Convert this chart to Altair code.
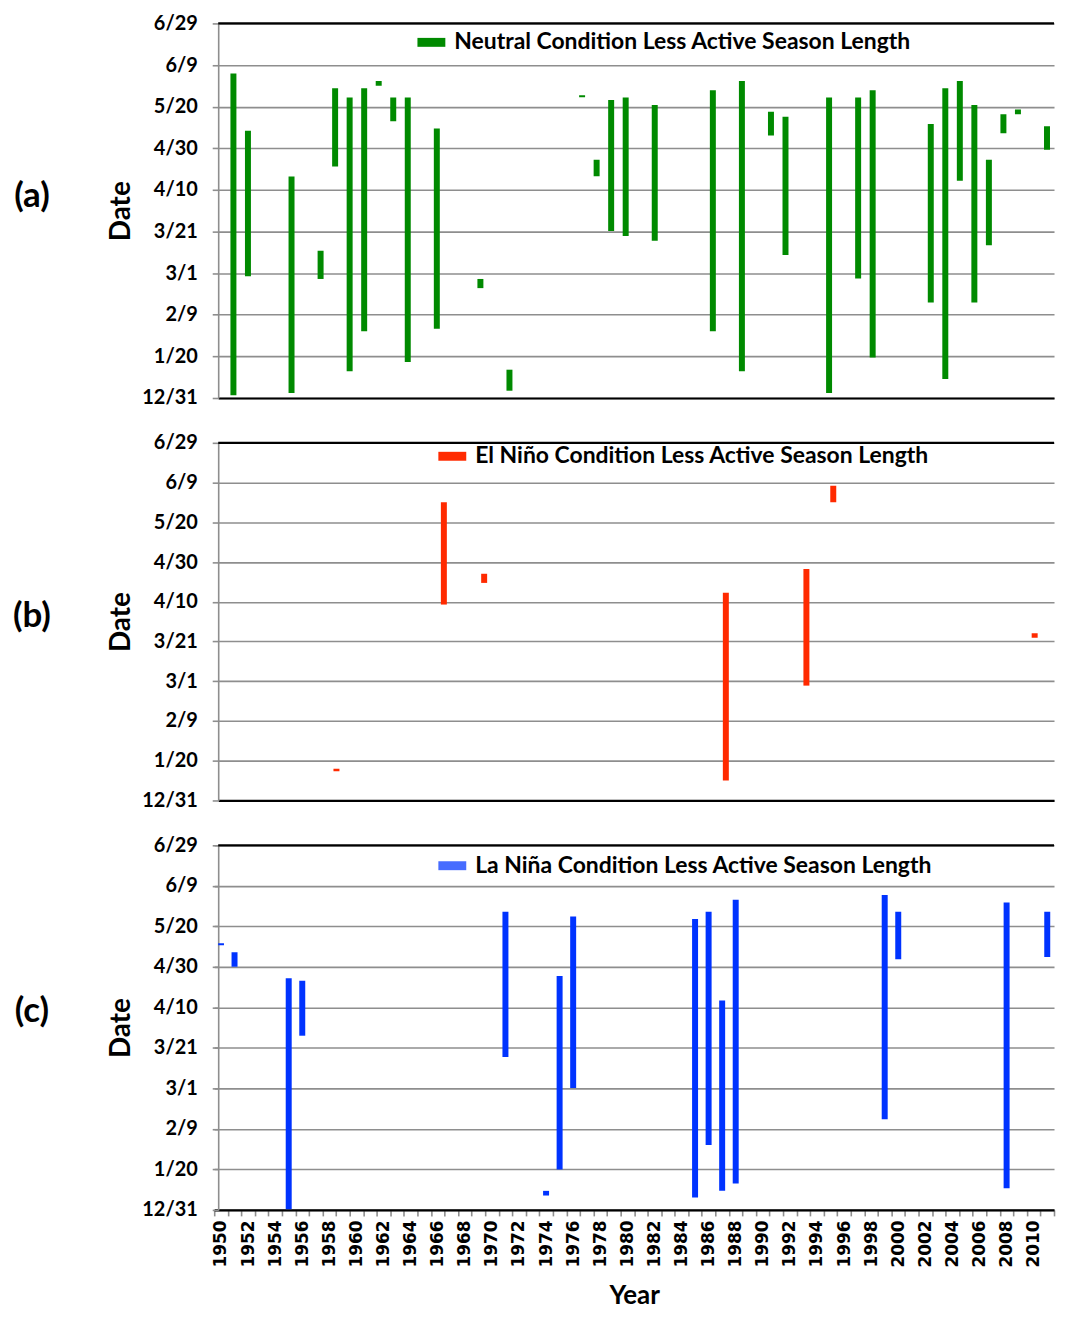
import altair as alt
import pandas as pd

# ---- axis labels -------------------------------------------------------
y_ticks = [0, 20, 40, 60, 80, 100, 120, 140, 160, 180]          # days after 12/31
y_labels = ["12/31", "1/20", "2/9", "3/1", "3/21", "4/10", "4/30", "5/20", "6/9", "6/29"]
axis_years = list(range(1950, 2012))

# ---- (a) Neutral ---------------------------------------------------------
neutral_years = [1950, 1951, 1954, 1956, 1957, 1958, 1959, 1960, 1961, 1962, 1964,
                 1967, 1969, 1974, 1975, 1976, 1977, 1979, 1983, 1985, 1987, 1988,
                 1991, 1993, 1994, 1998, 1999, 2000, 2001, 2002, 2003, 2004, 2006]
neutral_start = [1.3, 58.5, 2.4, 57.2, 111.3, 12.8, 32.1, 150.1, 133.0, 17.3, 33.3,
                 52.8, 3.5, 144.5, 106.6, 80.3, 77.9, 75.6, 32.1, 12.8, 126.1, 68.7,
                 2.4, 57.4, 19.5, 45.9, 9.1, 104.4, 45.9, 73.4, 127.2, 136.4, 119.3]
neutral_end = [155.9, 128.4, 106.5, 70.8, 148.8, 144.4, 148.8, 152.3, 144.4, 144.4, 129.5,
               57.2, 13.6, 145.5, 114.5, 143.2, 144.4, 140.8, 147.9, 152.3, 137.5, 135.1,
               144.4, 144.4, 147.9, 131.7, 148.8, 152.3, 140.8, 114.5, 136.4, 138.6, 130.6]

# ---- (b) El Nino ---------------------------------------------------------
nino_years = [1958, 1966, 1969, 1987, 1993, 1995, 2010]
nino_start = [14.7, 98.6, 109.5, 10.0, 57.8, 150.1, 81.9]
nino_end = [15.9, 150.1, 114.1, 104.5, 116.5, 158.4, 84.2]

# ---- (c) La Nina ---------------------------------------------------------
nina_years = [1950, 1951, 1955, 1956, 1971, 1974, 1975, 1976, 1985, 1986, 1987, 1988,
              1999, 2000, 2008, 2011]
nina_start = [130.6, 120.1, 0.3, 86.0, 75.5, 7.1, 20.0, 60.2, 6.1, 32.0, 9.5, 13.0,
              44.8, 123.7, 10.7, 124.9]
nina_end = [131.6, 127.2, 114.4, 113.1, 147.2, 9.4, 115.5, 144.9, 143.6, 147.2, 103.4, 153.1,
            155.4, 147.2, 151.8, 147.2]

LAB_A = "Neutral Condition Less Active Season Length"
LAB_B = "El Niño Condition Less Active Season Length"
LAB_C = "La Niña Condition Less Active Season Length"

FONT = "Lato"
GRID = "#8e8e8e"
W = 839
label_expr = "[" + ",".join("'%s'" % s for s in y_labels) + "][round(datum.value/20)]"


def frame(years, start, end, label):
    return pd.DataFrame({"year": years, "start": start, "end": end, "cond": [label] * len(years)})


def y_axis():
    return alt.Axis(values=y_ticks, tickCount=20, labelExpr=label_expr, title="Date", grid=True,
                    gridColor=GRID, gridWidth=1.6, domainColor=GRID, domainWidth=1.6,
                    tickColor=GRID, tickSize=6, tickWidth=1.6, labelOverlap=False,
                    labelFont=FONT, labelFontSize=20, labelFontWeight="bold",
                    labelColor="black", labelPadding=15,
                    titleFont=FONT, titleFontSize=28, titleFontWeight="bold",
                    titleColor="black", titlePadding=6)


def panel(df, color, label, x_enc, height, tag, tag_y, leg_xy, sym_opacity=1.0):
    yscale = alt.Scale(domain=[0, 180], nice=False, zero=False)
    bars = alt.Chart(df).mark_bar(size=6, clip=True).encode(
        x=x_enc,
        y=alt.Y("start:Q", scale=yscale, axis=y_axis()),
        y2="end:Q",
        color=alt.Color("cond:N", scale=alt.Scale(domain=[label], range=[color]),
                        legend=alt.Legend(orient="none", legendX=leg_xy[0], legendY=leg_xy[1],
                                          title=None, padding=0,
                                          symbolType="M-1,-0.32L1,-0.32L1,0.32L-1,0.32Z",
                                          symbolSize=784, symbolStrokeWidth=0,
                                          symbolOpacity=sym_opacity,
                                          labelFont=FONT, labelFontSize=23,
                                          labelFontWeight="bold", labelColor="black",
                                          labelLimit=0, labelOffset=9)),
    )
    top = alt.Chart(pd.DataFrame({"v": [180]})).mark_rule(color="black", strokeWidth=2.2).encode(
        y=alt.Y("v:Q", scale=yscale, axis=y_axis()))
    tagc = alt.Chart(pd.DataFrame({"t": [tag]})).mark_text(
        font=FONT, fontSize=35, fontWeight="bold", color="black", align="center",
        baseline="middle").encode(text="t:N", x=alt.value(-187), y=alt.value(tag_y))
    return alt.layer(bars, top, tagc).properties(width=W, height=height)


xa = alt.X("year:Q", scale=alt.Scale(domain=[1949.295, 2006.14], nice=False, zero=False),
           axis=alt.Axis(labels=False, ticks=False, grid=False, title=None,
                         domainColor="black", domainWidth=2.2))
xb = alt.X("year:Q", scale=alt.Scale(domain=[1949.564, 2011.07], nice=False, zero=False),
           axis=alt.Axis(labels=False, ticks=False, grid=False, title=None,
                         domainColor="black", domainWidth=2.2))
xc = alt.X("year:O", scale=alt.Scale(domain=axis_years, range=[-4, W],
                                     paddingInner=0, paddingOuter=0),
           axis=alt.Axis(labelAngle=270, labelExpr="datum.value % 2 == 0 ? datum.label : ''",
                         tickBand="extent", tickColor=GRID, tickSize=6, tickWidth=1.6,
                         domainColor="black", domainWidth=2.2, grid=False,
                         labelFont="DejaVu Sans", labelFontSize=17, labelFontWeight="bold",
                         labelColor="black", labelPadding=4,
                         title="Year", titleFont=FONT, titleFontSize=26,
                         titleFontWeight="bold", titleColor="black", titlePadding=16))

pa = panel(frame(neutral_years, neutral_start, neutral_end, LAB_A), "#008a00", LAB_A, xa,
           376, "(a)", 173, (200, 5))
pb = panel(frame(nino_years, nino_start, nino_end, LAB_B), "#ff2a00", LAB_B, xb,
           359, "(b)", 174, (221, -0.5))
pc = panel(frame(nina_years, nina_start, nina_end, LAB_C), "#0033ff", LAB_C, xc,
           366, "(c)", 166, (221, 6.5), sym_opacity=0.72)

chart = alt.vconcat(pa, pb, pc, spacing=25).resolve_scale(
    color="independent", y="independent", x="independent"
).resolve_legend(color="independent").properties(
    padding={"left": 4, "top": 3, "right": 0, "bottom": 0}, background="white"
).configure_view(stroke=None)

chart.save("out.html", embed_options={"renderer": "svg", "actions": False})
